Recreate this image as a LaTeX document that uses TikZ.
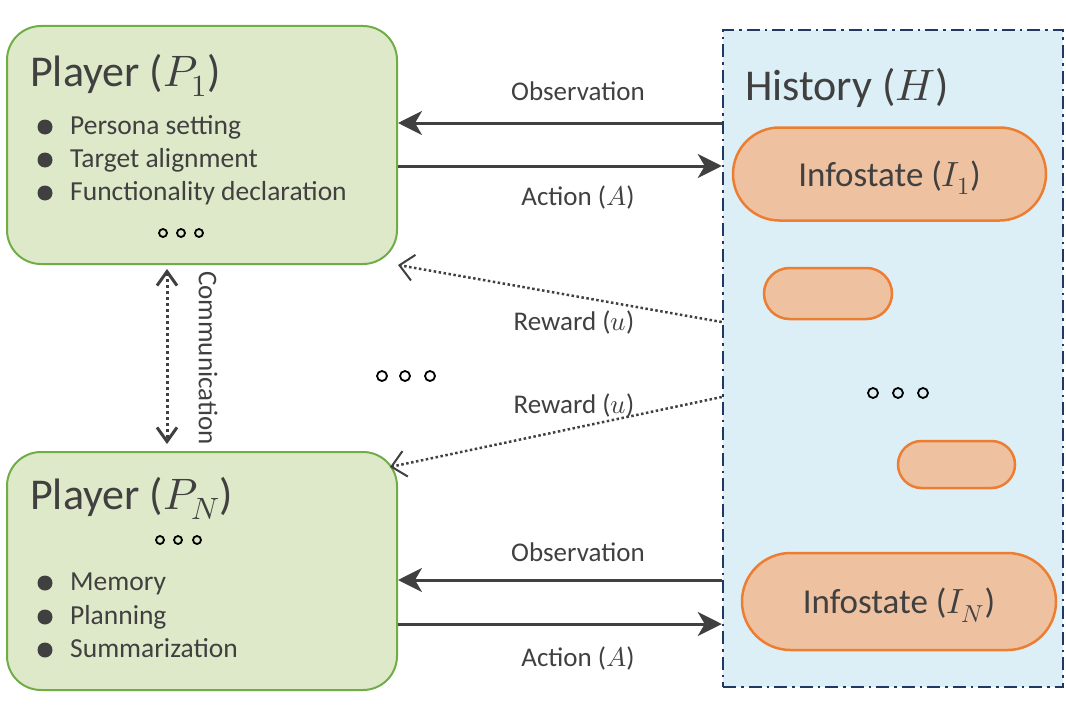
\documentclass[tikz,border=0pt]{standalone}
\usepackage{fontspec}
\usepackage{unicode-math}
\setmainfont{Carlito}
\setmathfont{Latin Modern Math}
\usepackage{tikz}
\usetikzlibrary{arrows.meta,shapes.misc}

\definecolor{plgreen}{HTML}{DEE9C9}
\definecolor{pldgreen}{HTML}{70AD47}
\definecolor{hblue}{HTML}{DCEFF7}
\definecolor{hnavy}{HTML}{1F3864}
\definecolor{iorange}{HTML}{EEC2A1}
\definecolor{idorange}{HTML}{ED7D31}
\definecolor{tgray}{HTML}{404040}

\tikzset{
	player/.style={draw=pldgreen,fill=plgreen,line width=2pt,rounded corners=34pt,
		minimum width=390pt,minimum height=238pt},
	hist/.style={draw=hnavy,fill=hblue,line width=2.5pt,
		dash pattern=on 13pt off 5pt on 2.5pt off 5pt,minimum width=340pt,minimum height=657pt},
	info/.style={rounded rectangle,draw=idorange,fill=iorange,line width=2.5pt,inner sep=0pt,
		text=tgray,font=\fontsize{35}{35}\selectfont,text height=24pt,text depth=0pt},
	title/.style={anchor=base west,text=tgray,font=\fontsize{44}{44}\selectfont,inner sep=0pt},
	item/.style={anchor=base west,text=tgray,font=\fontsize{27.5}{27.5}\selectfont,inner sep=0pt},
	lbl/.style={anchor=base,text=tgray,font=\fontsize{27}{27}\selectfont,inner sep=0pt},
	flow/.style={-{Stealth[length=24pt,width=24pt,inset=7pt]},draw=tgray,line width=3pt},
	reward/.style={-{Straight Barb[length=14pt,width=26pt,line width=2pt]},draw=tgray,
		line width=2.5pt,dash pattern=on 2.5pt off 2.5pt},
	comm/.style={{Straight Barb[length=14pt,width=20pt]}-{Straight Barb[length=14pt,width=20pt]},
		draw=tgray,line width=3pt,dash pattern=on 3pt off 3pt},
	etc/.style={draw=black,line width=1.8pt}
}

\begin{document}
\begin{tikzpicture}[x=1pt,y=-1pt]
		\useasboundingbox (0,0) rectangle (1066,717);
		% players
		\node[player] (p1) at (202,145) {};
		\node[player] (pn) at (202,571) {};
		\node[title] (p1title) at (30,86) {Player ($P_1$)};
		\node[title] (pntitle) at (30,509) {Player ($P_N$)};
		\node[item] (p1a) at (70,134) {Persona setting};
		\node[item] (p1b) at (70,167) {Target alignment};
		\node[item] (p1c) at (70,200) {Functionality declaration};
		\node[item] (pna) at (70,590) {Memory};
		\node[item] (pnb) at (70,624) {Planning};
		\node[item] (pnc) at (70,657) {Summarization};
		\foreach \y in {127,160,193,583,617,650}
			\fill[tgray] (45,\y) circle (7.5);
		\foreach \x in {163,181,199}
			\draw[etc] (\x,233) circle (4);
		\foreach \x in {160,178,197}
			\draw[etc] (\x,540) circle (4);
		%
		% history
		\node[hist] (hist) at (893,358.5) {};
		\node[title] (htitle) at (745,100) {History ($H$)};
		\node[info,minimum width=313pt,minimum height=93pt] (i1) at (889.5,174) {Infostate ($I_1$)};
		\node[info,minimum width=128pt,minimum height=51pt] (i2) at (828,293.5) {};
		\node[info,minimum width=117pt,minimum height=47pt] (i3) at (956.5,464.5) {};
		\node[info,minimum width=314pt,minimum height=97pt] (in) at (899,601.5) {Infostate ($I_N$)};
		\foreach \x in {873,898,923}
			\draw[etc] (\x,393) circle (5);
		\foreach \x in {382,405,430}
			\draw[etc] (\x,376) circle (5);
		%
		% connectors
		\draw[flow] (hist.west |- 0,123) -- (p1.east |- 0,123);
		\draw[flow] (p1.east |- 0,166) -- (hist.west |- 0,166);
		\draw[flow] (hist.west |- 0,580) -- (pn.east |- 0,580);
		\draw[flow] (pn.east |- 0,624) -- (hist.west |- 0,624);
		\draw[reward] (hist.west |- 0,322) -- (p1.south east);
		\draw[reward] (hist.west |- 0,397) -- ([xshift=-8pt,yshift=-16pt]pn.north east);
		\draw[comm,shorten <=4pt,shorten >=7pt] (p1.south -| 167,0) -- (pn.north -| 167,0);
		%
		\node[lbl] (obs1) at (578,100) {Observation};
		\node[lbl] (act1) at (578,205) {Action ($A$)};
		\node[lbl] (rew1) at (574,330) {Reward ($u$)};
		\node[lbl] (rew2) at (574,413) {Reward ($u$)};
		\node[lbl] (obsn) at (578,561) {Observation};
		\node[lbl] (actn) at (578,666) {Action ($A$)};
		\node[lbl,anchor=center,rotate=-90] (commlbl) at (208,358) {Communication};
\end{tikzpicture}
\end{document}
